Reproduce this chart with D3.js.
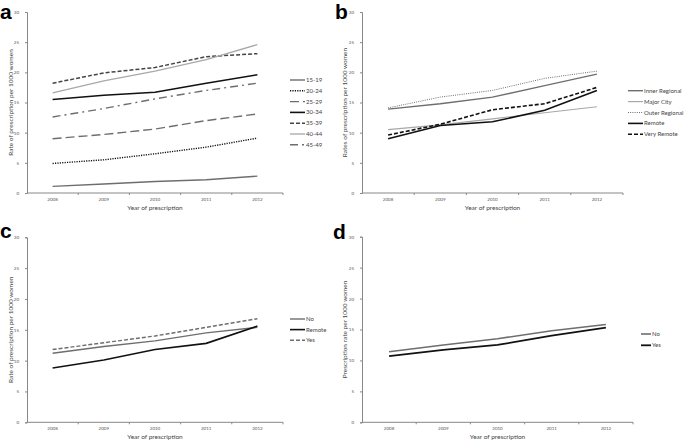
<!DOCTYPE html>
<html>
<head>
<meta charset="utf-8">
<script src="https://cdn.jsdelivr.net/npm/d3@7"></script>
<style>
  body { margin: 0; background: #fff; }
  svg { display: block; font-family: Lato, "Open Sans", sans-serif; }
</style>
</head>
<body>
<div id="chart"></div>
<script>
// shared x categories and y ticks
const years = ["2008", "2009", "2010", "2011", "2012"];
const yTicks = [0, 5, 10, 15, 20, 25, 30];

// panel a: age groups
const ageGroups = ["15-19", "20-24", "25-29", "30-34", "35-39", "40-44", "45-49"];
const ageValues = [
  [1.1, 1.5, 1.9, 2.2, 2.8],
  [4.9, 5.5, 6.5, 7.6, 9.1],
  [9.0, 9.7, 10.6, 12.0, 13.1],
  [15.5, 16.2, 16.7, 18.2, 19.6],
  [18.2, 19.9, 20.8, 22.6, 23.1],
  [16.6, 18.6, 20.2, 22.1, 24.6],
  [12.6, 14.0, 15.6, 17.0, 18.2]
];

// panel b: remoteness
const regions = ["Inner Regional", "Major City", "Outer Regional", "Remote", "Very Remote"];
const regionValues = [
  [13.9, 14.8, 15.9, 17.8, 19.7],
  [10.5, 11.3, 12.3, 13.3, 14.3],
  [14.1, 15.9, 17.0, 19.0, 20.2],
  [9.0, 11.2, 11.8, 13.7, 17.0],
  [9.6, 11.4, 13.8, 14.8, 17.5]
];

// panel c
const groupsC = ["No", "Remote", "Yes"];
const valuesC = [
  [11.2, 12.3, 13.2, 14.5, 15.4],
  [8.8, 10.1, 11.8, 12.8, 15.6],
  [11.8, 12.9, 14.0, 15.4, 16.8]
];

// panel d
const groupsD = ["No", "Yes"];
const valuesD = [
  [11.4, 12.5, 13.5, 14.8, 15.8],
  [10.7, 11.7, 12.5, 14.0, 15.3]
];

const GRAY = "#6e6e6e", LIGHT = "#a8a8a8", BLACK = "#111";

const svg = d3.select("#chart").append("svg")
  .attr("width", 685).attr("height", 442);

function panel(cfg) {
  const g = svg.append("g");
  const x = d3.scaleBand().domain(years).range([cfg.x0, cfg.x1]);
  const y = d3.scaleLinear().domain([0, 30]).range([cfg.yb, cfg.yt]);

  // y axis
  const ya = d3.axisLeft(y).tickValues(yTicks).tickSize(2).tickPadding(6);
  g.append("g").attr("transform", `translate(${cfg.x0},0)`).call(ya)
    .call(s => s.select(".domain").attr("stroke", "#888"))
    .call(s => s.selectAll(".tick line").attr("stroke", "#888"))
    .call(s => s.selectAll("text").attr("font-size", 4.5).attr("fill", "#555").attr("font-family", "Lato"));

  // x axis (excel style: ticks between categories)
  g.append("line").attr("x1", cfg.x0).attr("x2", cfg.x1)
    .attr("y1", cfg.yb).attr("y2", cfg.yb).attr("stroke", "#888");
  g.selectAll(".xt").data(d3.range(1, years.length + 1)).join("line")
    .attr("x1", i => cfg.x0 + i * x.step()).attr("x2", i => cfg.x0 + i * x.step())
    .attr("y1", cfg.yb).attr("y2", cfg.yb + 2).attr("stroke", "#888");
  g.selectAll(".xl").data(years).join("text")
    .attr("x", d => x(d) + x.bandwidth() / 2).attr("y", cfg.yb + 8)
    .attr("text-anchor", "middle").attr("font-size", 4.5).attr("fill", "#555")
    .text(d => d);

  g.append("text").attr("x", (cfg.x0 + cfg.x1) / 2).attr("y", cfg.yb + 16.5)
    .attr("text-anchor", "middle").attr("font-size", 6.5).attr("fill", "#444")
    .text("Year of prescription");
  g.append("text")
    .attr("transform", `translate(${cfg.ylx},${(cfg.yt + cfg.yb) / 2}) rotate(-90)`)
    .attr("text-anchor", "middle").attr("font-size", 6.5).attr("fill", "#444")
    .text(cfg.ylabel);

  const line = d3.line().x((d, i) => x(years[i]) + x.bandwidth() / 2).y(d => y(d));
  cfg.values.forEach((vals, k) => {
    const st = cfg.styles[k];
    g.append("path").datum(vals).attr("d", line).attr("fill", "none")
      .attr("stroke", st.c).attr("stroke-width", st.w)
      .attr("stroke-dasharray", st.dash || null);
    const ly = cfg.legY + k * cfg.legStep;
    g.append("line").attr("x1", cfg.legX).attr("x2", cfg.legX + cfg.legW)
      .attr("y1", ly).attr("y2", ly).attr("stroke", st.c).attr("stroke-width", st.w)
      .attr("stroke-dasharray", st.dash || null);
    g.append("text").attr("x", cfg.legX + cfg.legW + 1).attr("y", ly + 2)
      .attr("font-size", 6).attr("fill", "#444").text(cfg.names[k]);
  });

  svg.append("text").attr("x", cfg.lx).attr("y", cfg.ly)
    .attr("font-family", "Liberation Sans, Arial, sans-serif")
    .attr("font-weight", "bold").attr("font-size", 21).attr("fill", "#000")
    .text(cfg.label);
}

panel({
  label: "a", lx: 0, ly: 19,
  x0: 27, x1: 283, yt: 12, yb: 193, ylx: 13,
  ylabel: "Rate of prescription per 1000 women",
  names: ageGroups, values: ageValues,
  legX: 290, legW: 15, legY: 80, legStep: 10.8,
  styles: [
    { c: GRAY, w: 1.4 },
    { c: BLACK, w: 1.4, dash: "1.2,1.2" },
    { c: GRAY, w: 1.4, dash: "9,4" },
    { c: BLACK, w: 1.6 },
    { c: "#444", w: 1.5, dash: "4,2" },
    { c: LIGHT, w: 1.3 },
    { c: GRAY, w: 1.4, dash: "8,4,2,4" }
  ]
});

panel({
  label: "b", lx: 335, ly: 19,
  x0: 362, x1: 623, yt: 12, yb: 193, ylx: 347,
  ylabel: "Rates of prescription per 1000 women",
  names: regions, values: regionValues,
  legX: 628, legW: 15, legY: 90.7, legStep: 10.9,
  styles: [
    { c: GRAY, w: 1.4 },
    { c: LIGHT, w: 1.2 },
    { c: GRAY, w: 1, dash: "1,1.2" },
    { c: BLACK, w: 1.6 },
    { c: BLACK, w: 1.6, dash: "4,2" }
  ]
});

panel({
  label: "c", lx: 0, ly: 238,
  x0: 27, x1: 283, yt: 237.3, yb: 422.3, ylx: 13,
  ylabel: "Rate of prescription per 1000 women",
  names: groupsC, values: valuesC,
  legX: 290, legW: 15, legY: 319, legStep: 10.6,
  styles: [
    { c: GRAY, w: 1.4 },
    { c: BLACK, w: 1.6 },
    { c: GRAY, w: 1.4, dash: "4,2" }
  ]
});

panel({
  label: "d", lx: 333, ly: 239,
  x0: 362, x1: 633, yt: 236.7, yb: 422.3, ylx: 347,
  ylabel: "Prescription rate per 1000 women",
  names: groupsD, values: valuesD,
  legX: 641, legW: 10, legY: 334, legStep: 11.3,
  styles: [
    { c: GRAY, w: 1.6 },
    { c: BLACK, w: 1.8 }
  ]
});
</script>
</body>
</html>
